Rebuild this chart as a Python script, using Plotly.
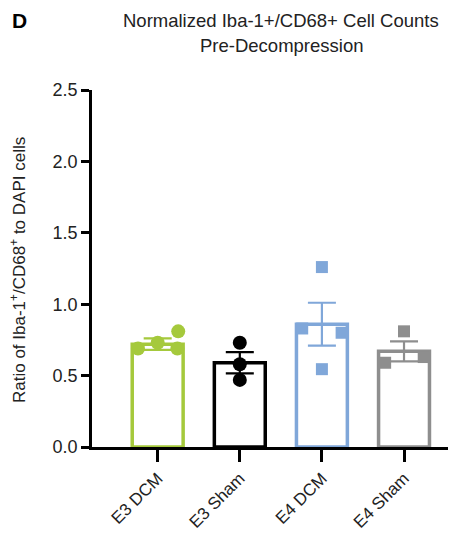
import plotly.graph_objects as go

# ---- data ----
categories = ["E3 DCM", "E3 Sham", "E4 DCM", "E4 Sham"]
means = [0.72, 0.59, 0.86, 0.67]
sems = [0.04, 0.075, 0.15, 0.07]
points = [
    [0.69, 0.73, 0.69, 0.81],
    [0.73, 0.58, 0.47],
    [0.83, 0.80, 0.545, 1.26],
    [0.81, 0.59, 0.63],
]
y_ticks = [0.0, 0.5, 1.0, 1.5, 2.0, 2.5]

# ---- styling / layout (not data) ----
colors = ["#a5c93c", "#000000", "#80a7d9", "#8e8e8e"]
symbols = ["circle", "circle", "square", "square"]
dot_offsets = [
    [-0.24, 0.0, 0.24, 0.25],
    [0.0, 0.0, 0.0],
    [-0.24, 0.24, 0.0, 0.0],
    [0.0, -0.23, 0.24],
]
FONT = "Liberation Sans, Arial, Helvetica, sans-serif"

fig = go.Figure()
for i, cat in enumerate(categories):
    fig.add_trace(go.Bar(
        x=[i], y=[means[i]], width=0.62,
        marker=dict(color="white", line=dict(color=colors[i], width=3.5)),
        error_y=dict(type="data", array=[sems[i]], visible=True,
                     color=colors[i], thickness=2.2, width=14),
        showlegend=False, hoverinfo="skip",
    ))
for i, cat in enumerate(categories):
    fig.add_trace(go.Scatter(
        x=[i + o for o in dot_offsets[i]], y=points[i], mode="markers",
        marker=dict(color=colors[i], size=14 if symbols[i] == "circle" else 12,
                    symbol=symbols[i], line=dict(width=0)),
        showlegend=False, hoverinfo="skip",
    ))

fig.update_layout(
    width=448, height=525,
    margin=dict(l=84, r=6, t=82, b=86),
    paper_bgcolor="white", plot_bgcolor="white",
    barmode="overlay",
    font=dict(family=FONT, size=18, color="#222"),
    xaxis=dict(
        range=[-0.8, 3.56], tickmode="array", automargin=False,
        tickvals=list(range(len(categories))), ticktext=categories,
        tickangle=-45, ticks="outside", ticklen=12, tickwidth=2.5,
        tickcolor="black", showline=True, linecolor="black", linewidth=2.5,
        showgrid=False, zeroline=False, tickfont=dict(size=17, color="#222"),
    ),
    yaxis=dict(
        range=[0, 2.5], tickmode="array", tickvals=y_ticks, automargin=False,
        ticktext=[f"{v:.1f}" for v in y_ticks],
        ticks="outside", ticklen=8, tickwidth=2.5, tickcolor="black",
        showline=True, linecolor="black", linewidth=2.5,
        showgrid=False, zeroline=False, tickfont=dict(size=18, color="#222"),
    ),
    annotations=[
        dict(text="Normalized Iba-1+/CD68+ Cell Counts", xref="paper", yref="paper",
             x=(281 - 92) / 358, y=(447 - 20) / 357, showarrow=False,
             font=dict(size=18.5, color="#222"), xanchor="center", yanchor="middle"),
        dict(text="Pre-Decompression", xref="paper", yref="paper",
             x=(281 - 92) / 358, y=(447 - 45) / 357, showarrow=False,
             font=dict(size=18.5, color="#222"), xanchor="center", yanchor="middle"),
        dict(text="<b>D</b>", xref="paper", yref="paper",
             x=(19 - 92) / 358, y=(447 - 20) / 357, showarrow=False,
             font=dict(size=21, color="black"), xanchor="center", yanchor="middle"),
        dict(text="Ratio of Iba-1<sup>+</sup>/CD68<sup>+</sup> to DAPI cells",
             xref="paper", yref="paper", x=(18 - 92) / 358, y=(447 - 270) / 357,
             textangle=-90, showarrow=False, font=dict(size=17, color="#222"),
             xanchor="center", yanchor="middle"),
    ],
)

fig.write_html("out.html")
